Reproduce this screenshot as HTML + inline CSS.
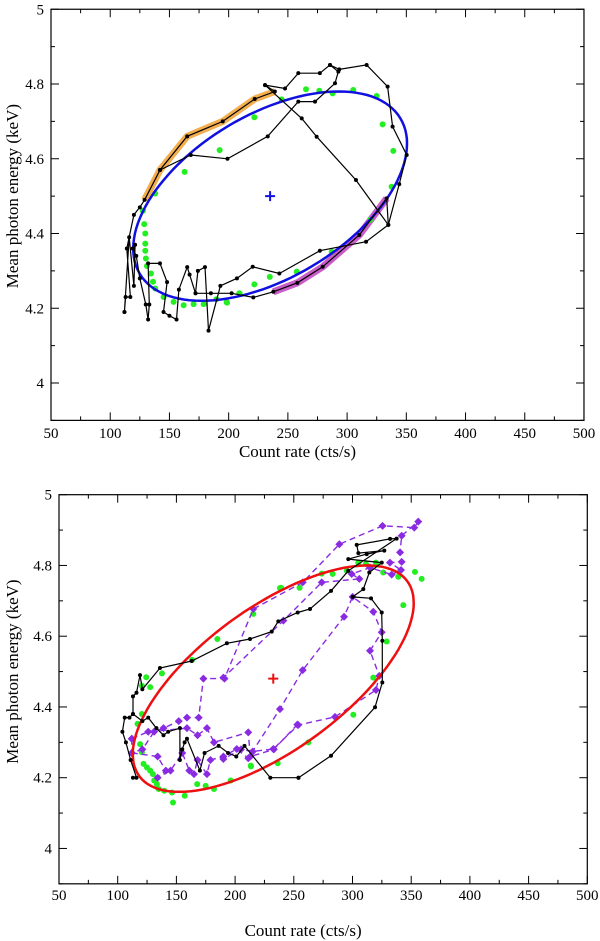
<!DOCTYPE html>
<html><head><meta charset="utf-8"><style>
html,body{margin:0;padding:0;background:#fff}
svg{display:block}
text{font-family:"Liberation Serif",serif;fill:#000}
</style></head><body>
<svg id="fig" width="600" height="941" viewBox="0 0 600 941" xmlns="http://www.w3.org/2000/svg"></svg>
<script>
// ---------- data (x: count rate cts/s, y: mean photon energy keV) ----------
const xTicks = [50,100,150,200,250,300,350,400,450,500];
const yTicks = [4,4.2,4.4,4.6,4.8,5];
const yTickLabels = ["4","4.2","4.4","4.6","4.8","5"];

// top panel
const topEllipseCenter = [235,4.5];
const topEllipseAxisA = [58,0.28];
const topEllipseAxisB = [100,0];
const topOrangeX = [129,142,165,195,222,239];
const topOrangeY = [4.49,4.57,4.66,4.70,4.76,4.78];
const topMagentaX = [237.7,258,279.4,310.3,333.4];
const topMagentaY = [4.244,4.268,4.311,4.396,4.494];
const topBlack1X = [112,113,117,114,120,125,129,142,165,195,222,239,230.7,247.6,258.8,277,285.6,293.4,316.5,334.2,338.4,350.3,344,334.8,316,277,242.8,220.3,207,193,183,180,174,172,167,165,158,156,150,145,148,142,132,133,132,130,125,122,119,121,120,116,112];
const topBlack1Y = [4.19,4.23,4.23,4.36,4.45,4.47,4.49,4.57,4.66,4.70,4.76,4.78,4.797,4.788,4.829,4.829,4.851,4.839,4.851,4.793,4.686,4.61,4.532,4.423,4.378,4.354,4.293,4.311,4.28,4.26,4.14,4.31,4.30,4.24,4.29,4.31,4.25,4.17,4.18,4.19,4.27,4.32,4.32,4.21,4.17,4.21,4.28,4.34,4.36,4.37,4.26,4.39,4.19];
const topBlack2X = [142,168,199,233,258.8,272.9,289.8,292.6,285.6];
const topBlack2Y = [4.57,4.61,4.60,4.66,4.753,4.753,4.802,4.833,4.851];
const topBlack3X = [230.7,261.7,274.3,307.5,334.8,333.4,310.3,279.4,258,237.7,220.8,202.5,185,172];
const topBlack3Y = [4.797,4.708,4.659,4.543,4.423,4.494,4.396,4.311,4.268,4.244,4.229,4.24,4.24,4.24];
const topGreenX = [127.6,128.7,129.6,129.6,129.6,130.1,131,134.4,136.1,138,145.1,153.5,162,170.4,178.9,189.6,198.6,209.3,221.7,234.7,138,162.8,192.4,221.7,244.8,265.3,276.5,287.8,305.2,325,330,339,337.6,319.3,287,257.5,209,198.3];
const topGreenY = [4.461,4.425,4.4,4.373,4.354,4.333,4.313,4.293,4.271,4.253,4.23,4.217,4.208,4.211,4.211,4.224,4.215,4.239,4.264,4.284,4.507,4.565,4.623,4.711,4.759,4.786,4.782,4.775,4.784,4.768,4.692,4.621,4.525,4.436,4.351,4.298,4.24,4.216];

// bottom panel
const botEllipseCenter = [232.5,4.48];
const botEllipseAxisA = [80,0.32];
const botEllipseAxisB = [89,0];
const botBlack1X = [254,281.7,319.2,325.4,325.4,324.9,315.8,300.1,309.2,314.3,324.9,296.4,312.1,327.1,305,303.6,332,337.6,296.4,281.7,263.8,253.3,236.8,231.2,212.7,193,163,136,121,119,116,113,113,110,106,104,107,111,116,113];
const botBlack1Y = [4.20,4.262,4.399,4.469,4.587,4.667,4.707,4.711,4.733,4.78,4.808,4.818,4.832,4.842,4.835,4.858,4.875,4.876,4.785,4.728,4.677,4.667,4.642,4.613,4.592,4.58,4.53,4.51,4.45,4.49,4.44,4.43,4.38,4.37,4.37,4.33,4.30,4.25,4.20,4.20];
const botBlack2X = [113,121,126,133,139,143,153,153,155,157,159,170,174,186,194,201,208,230,254];
const botBlack2Y = [4.38,4.36,4.37,4.34,4.32,4.33,4.34,4.25,4.28,4.30,4.31,4.22,4.27,4.29,4.27,4.26,4.29,4.20,4.20];
const purple1X = [112,112,121,131,139,152,159,169,173,191,215.5,257.6,288.8,325.6,352.6,356,341.9,340.5,341.9,331.9,341.3,333.4,314.9,299.3,305.8,273.8,241.1,190];
const purple1Y = [4.31,4.27,4.28,4.33,4.34,4.36,4.37,4.37,4.48,4.48,4.677,4.752,4.86,4.912,4.907,4.924,4.884,4.837,4.81,4.808,4.787,4.774,4.794,4.776,4.762,4.752,4.644,4.483];
const purple2X = [112,134,141,134,145,155,161,165,168,176,179,190,201.4,211.2,238.2,257.6,292.8,300.1,317.7,324.9,314.9,322.8,320,285.1,253.8,232.5,215,205,190];
const purple2Y = [4.27,4.26,4.22,4.20,4.22,4.27,4.22,4.21,4.25,4.21,4.25,4.26,4.281,4.255,4.394,4.504,4.655,4.711,4.669,4.611,4.559,4.488,4.448,4.372,4.349,4.281,4.274,4.28,4.253];
const purple3X = [112,126,159,168,176,182,211.2,213,233,253];
const purple3Y = [4.31,4.33,4.34,4.32,4.34,4.30,4.328,4.26,4.28,4.35];
const botGreenX = [120.6,124.3,127.7,137.7,120.6,116.9,119.1,120.6,122,124.9,127.7,130,131.1,133.4,134.9,139.7,146.3,147.1,157.1,167.7,174.9,182,196.3,184.9,163.4,213.4,236.3,239.1,254.9,238.2,273.8,283.1,295.1,305,311.5,320,326.2,339,353.2,358.9,343.3,329.1,317.7,300.7,262.4,213.5,215.5];
const botGreenY = [4.46,4.484,4.456,4.495,4.38,4.352,4.295,4.272,4.239,4.229,4.22,4.21,4.192,4.182,4.168,4.163,4.158,4.13,4.149,4.182,4.177,4.168,4.192,4.592,4.533,4.234,4.241,4.737,4.737,4.736,4.777,4.776,4.785,4.808,4.804,4.808,4.78,4.768,4.782,4.762,4.688,4.585,4.483,4.378,4.3,4.232,4.663];

// ---------- drawing ----------
const NS="http://www.w3.org/2000/svg";
const svg=document.getElementById('fig');
function mk(tag,attrs,parent){const e=document.createElementNS(NS,tag);for(const k in attrs)e.setAttribute(k,attrs[k]);(parent||svg).appendChild(e);return e;}

function panel(p){
  const g=mk('g',{});
  
  
  const X=v=>p.x0+(v-50)*p.sx, Y=v=>p.y0+(5-v)*p.sy;
  const L=X(50),R=X(500),T=Y(5),B=Y(3.9);
  const pts=(xs,ys)=>xs.map((x,i)=>X(x).toFixed(1)+','+Y(ys[i]).toFixed(1)).join(' ');
  // ticks
  const tg=mk('g',{stroke:'#000','stroke-width':1},g);
  
  
  for(let v=50;v<=500;v+=25){const major=(v%50===0),l=major?8:4,x=X(v);
    mk('line',{x1:x,y1:B,x2:x,y2:B-l},tg);mk('line',{x1:x,y1:T,x2:x,y2:T+l},tg);}
  for(let k=39;k<=50;k++){const v=k/10,major=(k%2===0),l=major?8:4,y=Y(v);
    mk('line',{x1:L,y1:y,x2:L+l,y2:y},tg);mk('line',{x1:R,y1:y,x2:R-l,y2:y},tg);}
  const fr=mk('rect',{x:L,y:T,width:R-L,height:B-T,fill:'none',stroke:'#000','stroke-width':1.2},g);
  
  
  xTicks.forEach(v=>{const t=mk('text',{x:X(v),y:p.xLabY,'text-anchor':'middle','font-size':15},g);t.textContent=String(v);
    
    });
  yTicks.forEach((v,i)=>{const t=mk('text',{x:L-7,y:Y(v)+5,'text-anchor':'end','font-size':15},g);t.textContent=yTickLabels[i];
    
    });
  const xt=mk('text',{x:(L+R)/2-20,y:p.xTitleY,'text-anchor':'middle','font-size':17},g);xt.textContent='Count rate (cts/s)';
  
  
  const cy=(T+Y(4))/2+p.yTitleOff;
  const yt=mk('text',{x:18,y:cy,'text-anchor':'middle','font-size':17,transform:`rotate(-90 18 ${cy})`},g);yt.textContent='Mean photon energy (keV)';
  
  
  return {g,X,Y,pts};
}
function ellipse(P,g,c,a,b,color,name){
  const arr=[];for(let i=0;i<=120;i++){const t=i/120*2*Math.PI;
    arr.push(P.X(c[0]+b[0]*Math.cos(t)+a[0]*Math.sin(t)).toFixed(1)+','+P.Y(c[1]+b[1]*Math.cos(t)+a[1]*Math.sin(t)).toFixed(1));}
  const e=mk('polyline',{points:arr.join(' '),fill:'none',stroke:color,'stroke-width':2.5},g);
  
  
  const cx=P.X(c[0]),cyy=P.Y(c[1]);
  const cr=mk('path',{d:`M${cx-5},${cyy}H${cx+5}M${cx},${cyy-5}V${cyy+5}`,stroke:color,'stroke-width':2},g);
  
  
}
function line(P,g,xs,ys,attrs,name){const l=mk('polyline',Object.assign({points:P.pts(xs,ys),fill:'none'},attrs),g);
  
  }
function dots(P,g,xs,ys,r,color,name){xs.forEach((x,i)=>{const d=mk('circle',{cx:P.X(x),cy:P.Y(ys[i]),r:r,fill:color},g);
  
  });}
function diamonds(P,g,xs,ys,color,name){xs.forEach((x,i)=>{const cx=P.X(x),cy=P.Y(ys[i]);
  const d=mk('path',{d:`M${cx},${cy-4}L${cx+4},${cy}L${cx},${cy+4}L${cx-4},${cy}Z`,fill:color},g);
  
  });}

// top
const P1=panel({name:'top-panel',x0:51,sx:1.1844,y0:9.25,sy:373.75,xLabY:438,xTitleY:457,yTitleOff:0});
line(P1,P1.g,topOrangeX,topOrangeY,{stroke:'#f0a030','stroke-width':7,'stroke-linejoin':'round',opacity:0.85},'orange-band');
line(P1,P1.g,topMagentaX,topMagentaY,{stroke:'#c040c0','stroke-width':7,'stroke-linejoin':'round',opacity:0.85},'magenta-band');
dots(P1,P1.g,topGreenX,topGreenY,3,'#22ee22','green-point');
ellipse(P1,P1.g,topEllipseCenter,topEllipseAxisA,topEllipseAxisB,'#1010e0','blue-ellipse');
line(P1,P1.g,topBlack1X,topBlack1Y,{stroke:'#000','stroke-width':1.2},'black-track');
line(P1,P1.g,topBlack2X,topBlack2Y,{stroke:'#000','stroke-width':1.2},'black-track-2');
line(P1,P1.g,topBlack3X,topBlack3Y,{stroke:'#000','stroke-width':1.2},'black-track-3');
dots(P1,P1.g,topBlack1X.concat(topBlack2X,topBlack3X),topBlack1Y.concat(topBlack2Y,topBlack3Y),2,'#000','black-point');

// bottom
const P2=panel({name:'bottom-panel',x0:59,sx:1.174,y0:494.7,sy:353.75,xLabY:900,xTitleY:936,yTitleOff:0});
dots(P2,P2.g,botGreenX,botGreenY,3,'#22ee22','green-point');
line(P2,P2.g,purple1X,purple1Y,{stroke:'#8a2be2','stroke-width':1.4,'stroke-dasharray':'6,4'},'purple-track');
line(P2,P2.g,purple2X,purple2Y,{stroke:'#8a2be2','stroke-width':1.4,'stroke-dasharray':'6,4'},'purple-track-2');
line(P2,P2.g,purple3X,purple3Y,{stroke:'#8a2be2','stroke-width':1.4,'stroke-dasharray':'6,4'},'purple-track-3');
diamonds(P2,P2.g,purple1X.concat(purple2X,purple3X),purple1Y.concat(purple2Y,purple3Y),'#8a2be2','purple-point');
ellipse(P2,P2.g,botEllipseCenter,botEllipseAxisA,botEllipseAxisB,'#ee1010','red-ellipse');
line(P2,P2.g,botBlack1X,botBlack1Y,{stroke:'#000','stroke-width':1.2},'black-track');
line(P2,P2.g,botBlack2X,botBlack2Y,{stroke:'#000','stroke-width':1.2},'black-track-2');
dots(P2,P2.g,botBlack1X.concat(botBlack2X),botBlack1Y.concat(botBlack2Y),2,'#000','black-point');
</script>
</body></html>
